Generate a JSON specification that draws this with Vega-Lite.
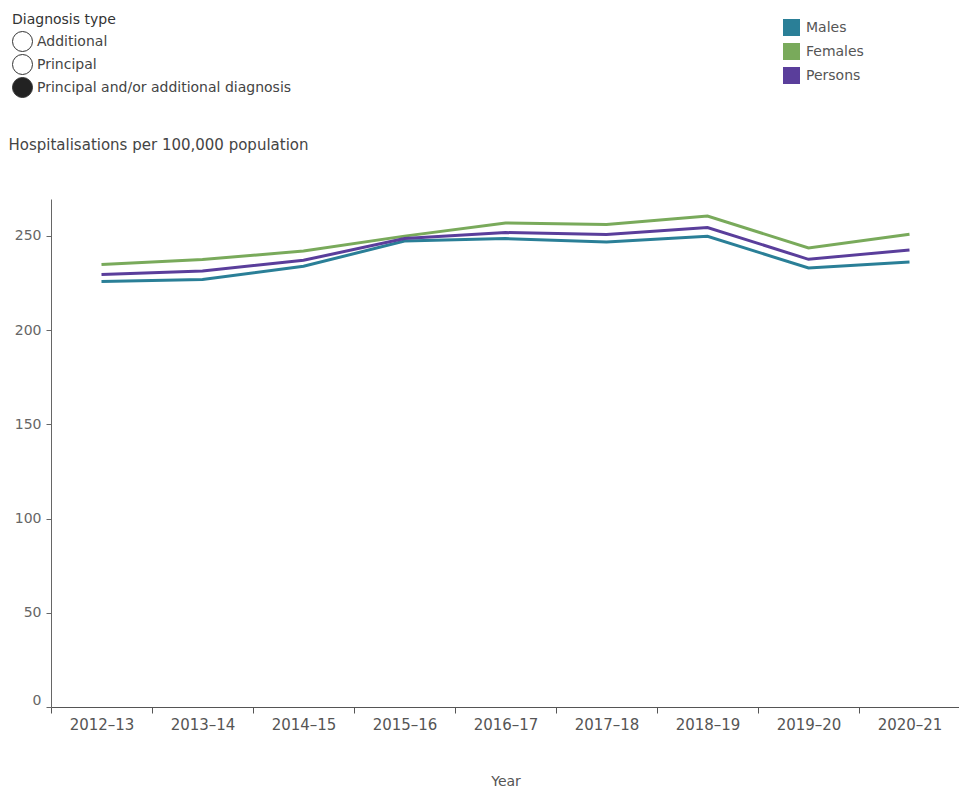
{
  "$schema": "https://vega.github.io/schema/vega-lite/v6.json",
  "width": 909,
  "height": 508,
  "autosize": {"type": "none"},
  "padding": {"left": 51, "top": 199, "right": 0, "bottom": 80},
  "background": "white",
  "config": {
    "view": {"stroke": null},
    "font": "DejaVu Sans",
    "axis": {"grid": false, "domainColor": "#666", "tickColor": "#666", "labelColor": "#666", "labelFont": "DejaVu Sans", "titleFont": "DejaVu Sans", "titleFontWeight": "normal", "titleColor": "#444"}
  },
  "datasets": {
    "rates": [
      {"Year": "2012–13", "Sex": "Males", "Rate": 225.7},
      {"Year": "2013–14", "Sex": "Males", "Rate": 226.8},
      {"Year": "2014–15", "Sex": "Males", "Rate": 233.8},
      {"Year": "2015–16", "Sex": "Males", "Rate": 247.2},
      {"Year": "2016–17", "Sex": "Males", "Rate": 248.5},
      {"Year": "2017–18", "Sex": "Males", "Rate": 246.7},
      {"Year": "2018–19", "Sex": "Males", "Rate": 249.7},
      {"Year": "2019–20", "Sex": "Males", "Rate": 232.9},
      {"Year": "2020–21", "Sex": "Males", "Rate": 236.1},
      {"Year": "2012–13", "Sex": "Females", "Rate": 234.7},
      {"Year": "2013–14", "Sex": "Females", "Rate": 237.4},
      {"Year": "2014–15", "Sex": "Females", "Rate": 241.9},
      {"Year": "2015–16", "Sex": "Females", "Rate": 249.8},
      {"Year": "2016–17", "Sex": "Females", "Rate": 256.8},
      {"Year": "2017–18", "Sex": "Females", "Rate": 256.0},
      {"Year": "2018–19", "Sex": "Females", "Rate": 260.5},
      {"Year": "2019–20", "Sex": "Females", "Rate": 243.5},
      {"Year": "2020–21", "Sex": "Females", "Rate": 250.8},
      {"Year": "2012–13", "Sex": "Persons", "Rate": 229.5},
      {"Year": "2013–14", "Sex": "Persons", "Rate": 231.3},
      {"Year": "2014–15", "Sex": "Persons", "Rate": 237.0},
      {"Year": "2015–16", "Sex": "Persons", "Rate": 248.5},
      {"Year": "2016–17", "Sex": "Persons", "Rate": 251.7},
      {"Year": "2017–18", "Sex": "Persons", "Rate": 250.7},
      {"Year": "2018–19", "Sex": "Persons", "Rate": 254.4},
      {"Year": "2019–20", "Sex": "Persons", "Rate": 237.5},
      {"Year": "2020–21", "Sex": "Persons", "Rate": 242.5}
    ],
    "diag": [
      {"Diagnosis type": "Additional"},
      {"Diagnosis type": "Principal"},
      {"Diagnosis type": "Principal and/or additional diagnosis"}
    ]
  },
  "layer": [
    {
      "data": {"name": "rates"},
      "mark": {"type": "line", "strokeWidth": 3, "strokeJoin": "miter"},
      "encoding": {
        "x": {
          "field": "Year", "type": "ordinal", "bandPosition": 0.5,
          "scale": {"type": "band", "paddingInner": 0, "paddingOuter": 0},
          "axis": {"labelAngle": 0, "tickBand": "extent", "tickSize": 6, "labelPadding": 4, "labelFontSize": 15, "labelColor": "#555", "title": "Year", "titleFontSize": 14, "titleY": 74, "titleBaseline": "middle", "titleColor": "#555", "domainColor": "#555", "tickColor": "#555"}
        },
        "y": {
          "field": "Rate", "type": "quantitative",
          "scale": {"domain": [0, 269.5], "nice": false, "zero": true},
          "axis": {"values": [0, 50, 100, 150, 200, 250], "tickSize": 5, "labelPadding": 5, "labelFontSize": 14, "labelFlush": 12, "title": "Hospitalisations per 100,000 population", "titleAngle": 0, "titleAlign": "left", "titleBaseline": "middle", "titleX": -43, "titleY": -55, "titleFontSize": 15}
        },
        "color": {
          "field": "Sex", "type": "nominal",
          "scale": {"domain": ["Males", "Females", "Persons"], "range": ["#2a7f97", "#79aa5b", "#5a3e9b"]},
          "legend": {
            "title": null, "orient": "none", "legendX": 732, "legendY": -180, "symbolType": "square", "symbolSize": 289, "symbolStrokeWidth": 0, "symbolOpacity": 1, "labelFontSize": 14, "labelColor": "#555", "labelOffset": 6, "rowPadding": 7, "labelFont": "DejaVu Sans",
            "encode": {"symbols": {"update": {"fill": {"scale": "color", "field": "value"}, "fillOpacity": {"value": 1}}}}
          }
        }
      }
    },
    {
      "data": {"name": "diag"},
      "mark": {"type": "point", "filled": true, "size": 0, "opacity": 0},
      "encoding": {
        "fill": {
          "field": "Diagnosis type", "type": "nominal",
          "scale": {"domain": ["Additional", "Principal", "Principal and/or additional diagnosis"], "range": ["#ffffff", "#ffffff", "#222222"]},
          "legend": {"title": "Diagnosis type", "orient": "none", "legendX": -39, "legendY": -186, "symbolType": "circle", "symbolSize": 400, "symbolStrokeColor": "#333", "symbolStrokeWidth": 1, "symbolOpacity": 1, "labelFontSize": 14, "labelColor": "#444", "labelOffset": 4, "labelLimit": 400, "rowPadding": -3, "titleFontSize": 14, "titleFontWeight": "normal", "titleColor": "#333", "titlePadding": 4, "labelFont": "DejaVu Sans", "titleFont": "DejaVu Sans"}
        }
      }
    }
  ]
}
